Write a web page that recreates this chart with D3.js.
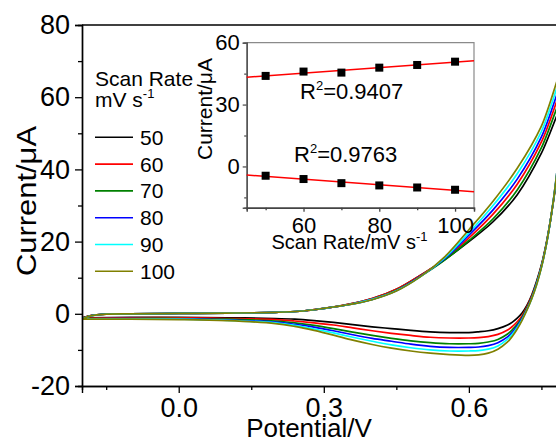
<!DOCTYPE html>
<html>
<head>
<meta charset="utf-8">
<script src="https://cdn.jsdelivr.net/npm/d3@7"></script>
<style>
  html, body { margin: 0; padding: 0; background: #fff; }
  svg { display: block; font-family: "Liberation Sans", Arial, sans-serif; }
</style>
</head>
<body>
<svg id="chart" width="556" height="442"></svg>
<script>
// Scan rates (mV/s) and line colours
const scanRates = [50, 60, 70, 80, 90, 100];
const seriesColors = ["#000000", "#ff0000", "#008000", "#0000ff", "#00ffff", "#808000"];

// Forward (anodic) sweep potentials, V
const fwdPotential = [-0.2, -0.18, -0.15, -0.1, 0, 0.1, 0.2, 0.25, 0.3, 0.35, 0.4, 0.45, 0.5, 0.55, 0.6, 0.65, 0.7, 0.75, 0.8];
// Forward sweep currents, µA
const fwd50  = [-1.1, -0.4, -0.1, 0.0, 0.1, 0.2, 0.4, 0.7, 1.5, 2.6, 4.2, 6.8, 10.7, 15.0, 20.0, 25.5, 33.0, 44.5, 60.0];
const fwd60  = [-1.2, -0.4, -0.1, 0.0, 0.1, 0.2, 0.4, 0.7, 1.5, 2.6, 4.2, 6.8, 10.7, 15.1, 21.0, 27.6, 35.9, 47.6, 64.5];
const fwd70  = [-1.3, -0.5, -0.1, 0.0, 0.1, 0.2, 0.4, 0.7, 1.5, 2.5, 4.0, 6.5, 10.4, 14.9, 20.3, 26.3, 34.3, 46.0, 62.5];
const fwd80  = [-1.4, -0.5, -0.1, 0.0, 0.1, 0.2, 0.4, 0.7, 1.5, 2.5, 4.0, 6.4, 10.4, 15.3, 21.8, 28.8, 37.3, 49.0, 66.5];
const fwd90  = [-1.4, -0.5, -0.1, 0.0, 0.1, 0.2, 0.4, 0.7, 1.5, 2.5, 4.0, 6.4, 10.3, 15.5, 22.4, 30.0, 38.8, 50.5, 68.5];
const fwd100 = [-1.5, -0.5, -0.1, 0.0, 0.1, 0.2, 0.4, 0.7, 1.5, 2.5, 3.9, 6.3, 10.3, 15.8, 23.3, 31.2, 40.3, 52.0, 70.5];

// Reverse (cathodic) sweep potentials, V
const revPotential = [0.8, 0.79, 0.78, 0.77, 0.76, 0.75, 0.74, 0.73, 0.72, 0.71, 0.7, 0.69, 0.68, 0.66, 0.64, 0.62, 0.6, 0.56, 0.52, 0.48, 0.44, 0.4, 0.36, 0.32, 0.28, 0.24, 0.2, 0.1, 0, -0.1, -0.2];
// Reverse sweep currents, µA
const rev50  = [60.0, 47.0, 36.0, 27.0, 19.5, 13.5, 9.0, 5.2, 2.3, 0.2, -1.2, -2.3, -3.1, -4.1, -4.7, -5.0, -5.2, -5.2, -5.0, -4.6, -4.1, -3.6, -3.0, -2.4, -1.9, -1.5, -1.3, -1.1, -1.0, -1.0, -1.1];
const rev60  = [64.5, 48.5, 36.5, 27.0, 19.3, 13.3, 8.7, 4.9, 1.9, -0.5, -2.2, -3.5, -4.5, -5.7, -6.3, -6.6, -6.7, -6.7, -6.5, -6.0, -5.4, -4.7, -3.9, -3.1, -2.5, -2.0, -1.6, -1.3, -1.1, -1.1, -1.2];
const rev70  = [62.5, 48.0, 36.5, 27.0, 19.2, 13.1, 8.5, 4.6, 1.6, -1.0, -2.9, -4.4, -5.6, -7.1, -7.8, -8.2, -8.3, -8.3, -8.0, -7.5, -6.8, -6.0, -5.1, -4.1, -3.2, -2.5, -2.0, -1.5, -1.3, -1.3, -1.3];
const rev80  = [66.5, 49.0, 37.0, 27.0, 19.1, 13.0, 8.3, 4.4, 1.3, -1.3, -3.4, -5.1, -6.4, -8.0, -8.8, -9.2, -9.3, -9.3, -9.0, -8.4, -7.6, -6.8, -5.8, -4.7, -3.7, -2.9, -2.3, -1.7, -1.4, -1.3, -1.4];
const rev90  = [68.5, 49.5, 37.0, 27.0, 19.0, 12.9, 8.1, 4.2, 1.1, -1.6, -3.8, -5.6, -7.0, -8.9, -9.8, -10.2, -10.3, -10.3, -10.0, -9.4, -8.6, -7.6, -6.5, -5.3, -4.2, -3.2, -2.5, -1.8, -1.5, -1.4, -1.4];
const rev100 = [70.5, 50.0, 37.0, 27.0, 19.0, 12.8, 8.0, 4.2, 1.0, -1.8, -4.2, -6.2, -7.8, -9.8, -10.9, -11.4, -11.5, -11.3, -10.9, -10.3, -9.5, -8.5, -7.3, -5.9, -4.6, -3.5, -2.7, -1.9, -1.6, -1.5, -1.5];

const fwdCurrents = [fwd50, fwd60, fwd70, fwd80, fwd90, fwd100];
const revCurrents = [rev50, rev60, rev70, rev80, rev90, rev100];

// Inset: peak currents vs scan rate
const insetRates = [50, 60, 70, 80, 90, 100];
const anodicPeak = [43.9, 46.0, 45.5, 47.9, 49.2, 50.8];
const cathodicPeak = [-4.5, -6.1, -8.1, -9.2, -10.2, -11.3];
const r2Labels = ["0.9407", "0.9763"];

// Tick values
const mainYTicks = [-20, 0, 20, 40, 60, 80];
const mainYMinor = [-10, 10, 30, 50, 70];
const mainXTicks = [0.0, 0.3, 0.6];
const mainXMinor = [-0.15, 0.15, 0.45, 0.75];
const insetYTicks = [0, 30, 60];
const insetYMinor = [-15, 15, 45];
const insetXTicks = [60, 80, 100];
const insetXMinor = [50, 70, 90];

const svg = d3.select("#chart");

// ---------- main plot ----------
const x = d3.scaleLinear().domain([-0.2, 0.8]).range([82, 565.6]);
const y = d3.scaleLinear().domain([-20, 80]).range([386, 25]);

svg.append("defs").append("clipPath").attr("id", "plotClip")
  .append("rect").attr("x", 82).attr("y", 25).attr("width", 484).attr("height", 361);

const line = d3.line().x(d => x(d[0])).y(d => y(d[1])).curve(d3.curveCatmullRom.alpha(0.5));

const curves = svg.append("g").attr("clip-path", "url(#plotClip)");
scanRates.forEach((r, i) => {
  const pts = fwdPotential.map((v, k) => [v, fwdCurrents[i][k]])
    .concat(revPotential.slice(1).map((v, k) => [v, revCurrents[i][k + 1]]));
  curves.append("path")
    .attr("d", line(pts))
    .attr("fill", "none")
    .attr("stroke", seriesColors[i])
    .attr("stroke-width", 1.7);
});

function styleAxis(g, fs, color) {
  g.select(".domain").attr("stroke", color).attr("stroke-width", 1.4);
  g.selectAll(".tick line").attr("stroke", color).attr("stroke-width", 1.3);
  g.selectAll(".tick text").attr("fill", "#000").style("font-size", fs + "px")
    .style("font-family", "'Liberation Sans', Arial, sans-serif");
}

// y axis
const yAxisG = svg.append("g").attr("transform", "translate(82,0)")
  .call(d3.axisLeft(y).tickValues(mainYTicks).tickSize(7).tickPadding(5).tickFormat(d => String(d)));
styleAxis(yAxisG, 27, "#000");
const yMinorG = svg.append("g").attr("transform", "translate(82,0)")
  .call(d3.axisLeft(y).tickValues(mainYMinor).tickSize(4).tickFormat(""));
styleAxis(yMinorG, 27, "#000");

// x axis
const xAxisG = svg.append("g").attr("transform", "translate(0,386)")
  .call(d3.axisBottom(x).tickValues(mainXTicks).tickSize(7).tickPadding(5).tickFormat(d3.format(".1f")));
styleAxis(xAxisG, 27, "#000");
const xMinorG = svg.append("g").attr("transform", "translate(0,386)")
  .call(d3.axisBottom(x).tickValues(mainXMinor).tickSize(4).tickFormat(""));
styleAxis(xMinorG, 27, "#000");

// top frame
svg.append("line").attr("x1", 82).attr("x2", 566).attr("y1", 25).attr("y2", 25)
  .attr("stroke", "#000").attr("stroke-width", 1.4);

// axis titles
svg.append("text").attr("x", 309).attr("y", 437).attr("text-anchor", "middle")
  .style("font-size", "26px").text("Potential/V");
svg.append("text").attr("transform", "translate(36,201) rotate(-90)").attr("text-anchor", "middle")
  .attr("textLength", 150).attr("lengthAdjust", "spacingAndGlyphs")
  .style("font-size", "27px").text("Current/μA");

// legend
const legend = svg.append("g");
legend.append("text").attr("x", 95).attr("y", 86).style("font-size", "21px").text("Scan Rate");
const unit = legend.append("text").attr("x", 95).attr("y", 107).style("font-size", "21px");
unit.append("tspan").text("mV s");
unit.append("tspan").attr("dy", -9).style("font-size", "13px").text("-1");
scanRates.forEach((r, i) => {
  const ly = 137.3 + i * 26.8;
  legend.append("line").attr("x1", 95).attr("x2", 133).attr("y1", ly).attr("y2", ly)
    .attr("stroke", seriesColors[i]).attr("stroke-width", 1.6);
  legend.append("text").attr("x", 140).attr("y", ly + 7.5).style("font-size", "21px").text(r);
});

// ---------- inset ----------
const xi = d3.scaleLinear().domain([45, 105]).range([246.7, 474]);
const yi = d3.scaleLinear().domain([-20, 60]).range([207.7, 42.7]);

const inset = svg.append("g");
// top and right frame
inset.append("path")
  .attr("d", `M${xi(45)},${yi(60)}H${xi(105)}V${yi(-20)}`)
  .attr("fill", "none").attr("stroke", "#8a8a8a").attr("stroke-width", 1.2);

const iyAxis = inset.append("g").attr("transform", `translate(${xi(45)},0)`)
  .call(d3.axisLeft(yi).tickValues(insetYTicks).tickSize(4).tickPadding(3).tickFormat(d => String(d)));
styleAxis(iyAxis, 22, "#555");
const iyMinor = inset.append("g").attr("transform", `translate(${xi(45)},0)`)
  .call(d3.axisLeft(yi).tickValues(insetYMinor).tickSize(2.5).tickFormat(""));
styleAxis(iyMinor, 22, "#555");
const ixAxis = inset.append("g").attr("transform", `translate(0,${yi(-20)})`)
  .call(d3.axisBottom(xi).tickValues(insetXTicks).tickSize(4).tickPadding(6).tickFormat(d => String(d)));
styleAxis(ixAxis, 22, "#444");
const ixMinor = inset.append("g").attr("transform", `translate(0,${yi(-20)})`)
  .call(d3.axisBottom(xi).tickValues(insetXMinor).tickSize(2.5).tickFormat(""));
styleAxis(ixMinor, 22, "#444");

// least-squares fit lines
function fit(xs, ys) {
  const mx = d3.mean(xs), my = d3.mean(ys);
  const sxy = d3.sum(xs, (v, k) => (v - mx) * (ys[k] - my));
  const sxx = d3.sum(xs, v => (v - mx) * (v - mx));
  const b = sxy / sxx;
  return v => my + b * (v - mx);
}
[anodicPeak, cathodicPeak].forEach(vals => {
  const f = fit(insetRates, vals);
  inset.append("line")
    .attr("x1", xi(45)).attr("y1", yi(f(45)))
    .attr("x2", xi(105)).attr("y2", yi(f(105)))
    .attr("stroke", "#ff0000").attr("stroke-width", 1.5);
  inset.selectAll(null).data(insetRates).enter().append("rect")
    .attr("x", d => xi(d) - 4).attr("y", (d, k) => yi(vals[k]) - 4)
    .attr("width", 8).attr("height", 8).attr("fill", "#000");
});

// R² labels
function r2Text(xp, yp, val) {
  const t = inset.append("text").attr("x", xp).attr("y", yp).style("font-size", "22px");
  t.append("tspan").text("R");
  t.append("tspan").attr("dy", -9).style("font-size", "13px").text("2");
  t.append("tspan").attr("dy", 9).text("=" + val);
}
r2Text(300, 98.5, r2Labels[0]);
r2Text(294, 161.5, r2Labels[1]);

// inset axis titles
const ixt = inset.append("text").attr("x", 271.5).attr("y", 248.5).style("font-size", "20px");
ixt.append("tspan").text("Scan Rate/mV s");
ixt.append("tspan").attr("dy", -8).style("font-size", "13px").text("-1");
inset.append("text").attr("transform", "translate(212,109) rotate(-90)").attr("text-anchor", "middle")
  .style("font-size", "21px").text("Current/μA");
</script>
</body>
</html>
